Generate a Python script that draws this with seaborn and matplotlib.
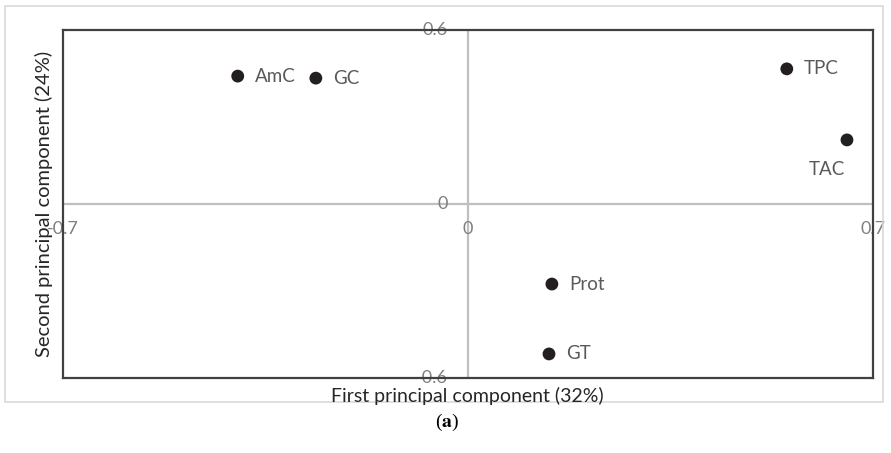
import matplotlib
matplotlib.use("Agg")
import matplotlib.pyplot as plt
from matplotlib.patches import Rectangle
import seaborn as sns
import pandas as pd

# PCA loadings of the measured variables
variables = ["AmC", "GC", "TPC", "TAC", "Prot", "GT"]
pc1 = [-0.398, -0.263, 0.551, 0.655, 0.145, 0.140]
pc2 = [0.441, 0.434, 0.466, 0.221, -0.276, -0.517]

x_ticks = [-0.7, 0, 0.7]
x_tick_labels = ["-0.7", "0", "0.7"]
y_ticks = [0.6, 0, -0.6]
y_tick_labels = ["0.6", "0", "-0.6"]

df = pd.DataFrame({"variable": variables, "pc1": pc1, "pc2": pc2})

sns.set_theme(style="white")
plt.rcParams["font.family"] = ["Lato", "DejaVu Sans"]
plt.rcParams["mathtext.fontset"] = "stix"

W, H = 891, 453
fig = plt.figure(figsize=(W / 100, H / 100), dpi=100)
fig.patch.set_facecolor("white")

# light chart-area border
fig.add_artist(Rectangle((5 / W, 1 - 402 / H), (883 - 5) / W, (402 - 6) / H,
                         transform=fig.transFigure, fill=False,
                         edgecolor="#d9d9d9", linewidth=1.2))

ax = fig.add_axes([63 / W, 1 - 378 / H, (873 - 63) / W, (378 - 30) / H])
ax.set_xlim(-0.7, 0.7)
ax.set_ylim(-0.6, 0.6)

# axes crossing at the origin
ax.axhline(0, color="#bfbfbf", linewidth=1.6, zorder=1)
ax.axvline(0, color="#bfbfbf", linewidth=1.6, zorder=1)

sns.scatterplot(data=df, x="pc1", y="pc2", ax=ax, color="#231f20",
                s=85, edgecolor="none", zorder=3, legend=False)

label_gray = "#595959"
for name, xv, yv in zip(variables, pc1, pc2):
    if name == "TAC":
        ax.annotate(name, (xv, yv), xytext=(-20, -30), textcoords="offset pixels",
                    ha="center", va="center", fontsize=13.5, color=label_gray)
    else:
        ax.annotate(name, (xv, yv), xytext=(17, 0), textcoords="offset pixels",
                    ha="left", va="center", fontsize=13.5, color=label_gray)

tick_gray = "#7f7f7f"
for xv, lab in zip(x_ticks, x_tick_labels):
    ax.annotate(lab, (xv, 0), xytext=(0, -25), textcoords="offset pixels",
                ha="center", va="center", fontsize=13, color=tick_gray,
                annotation_clip=False, zorder=2)
for yv, lab in zip(y_ticks, y_tick_labels):
    ax.annotate(lab, (0, yv), xytext=(-20, 0), textcoords="offset pixels",
                ha="right", va="center", fontsize=13, color=tick_gray,
                annotation_clip=False, zorder=2)

ax.set_xticks([])
ax.set_yticks([])
for sp in ax.spines.values():
    sp.set_color("#404040")
    sp.set_linewidth(1.6)
    sp.set_zorder(4)

ax.set_xlabel("")
ax.set_ylabel("")
fig.text(467 / W, 1 - 396 / H, "First principal component (32%)",
         ha="center", va="center", fontsize=14, color="#262626")
fig.text(44 / W, 1 - 204 / H, "Second principal component (24%)",
         ha="center", va="center", rotation=90, fontsize=14.5, color="#262626")

fig.text(447 / W, 1 - 422 / H, r"($\mathbf{a}$)", ha="center", va="center",
         fontsize=14, family="Liberation Serif", color="black")

fig.savefig("out.png", dpi=100, facecolor="white")
